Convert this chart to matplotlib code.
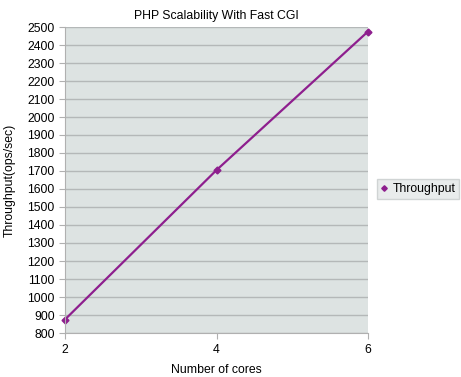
import matplotlib
matplotlib.use("Agg")
import matplotlib.pyplot as plt

cores = [2, 4, 6]
throughput = [875, 1705, 2475]
y_ticks = list(range(800, 2501, 100))

plt.rcParams["font.family"] = ["Liberation Sans", "DejaVu Sans"]
fs = 8.8

fig = plt.figure(figsize=(4.61, 3.77), dpi=100)
ax = fig.add_axes([65 / 461, 1 - 333 / 377, 303 / 461, 306 / 377])

ax.set_facecolor("#dde3e2")
ax.plot(cores, throughput, color="#8e1f8e", linewidth=1.6, marker="D",
        markersize=3.5, label="Throughput", clip_on=False)

ax.set_xlim(2, 6)
ax.set_ylim(800, 2500)
ax.set_xticks(cores)
ax.set_yticks(y_ticks)
ax.yaxis.grid(True, color="#b4b8b8", linewidth=1)
ax.set_axisbelow(True)

for side in ["top", "right"]:
    ax.spines[side].set_visible(False)
for side in ["left", "bottom"]:
    ax.spines[side].set_color("#b0b0b0")

ax.tick_params(axis="both", labelsize=fs, color="#b0b0b0", length=4)
ax.tick_params(axis="x", pad=4)

ax.set_title("PHP Scalability With Fast CGI", fontsize=fs, pad=6)
ax.set_xlabel("Number of cores", fontsize=fs)
ax.set_ylabel("Throughput(ops/sec)", fontsize=fs, va="center")
# place axis labels where the reference has them
ax.xaxis.set_label_coords(0.5, (333 - 370) / 306)
ax.xaxis.label.set_va("center")
ax.yaxis.set_label_coords((10 - 65) / 303, 0.5)

leg = fig.legend(loc="center left", bbox_to_anchor=(377 / 461, 1 - 189 / 377),
                 fontsize=fs, frameon=True, fancybox=False, handlelength=0.5,
                 handletextpad=0.4, borderpad=0.35, borderaxespad=0,
                 markerscale=0.8)
leg.get_frame().set_facecolor("#e4e8e8")
leg.get_frame().set_edgecolor("#c8cccc")
for h in leg.legend_handles:
    h.set_linestyle("none")

fig.savefig("out.png", dpi=100)
